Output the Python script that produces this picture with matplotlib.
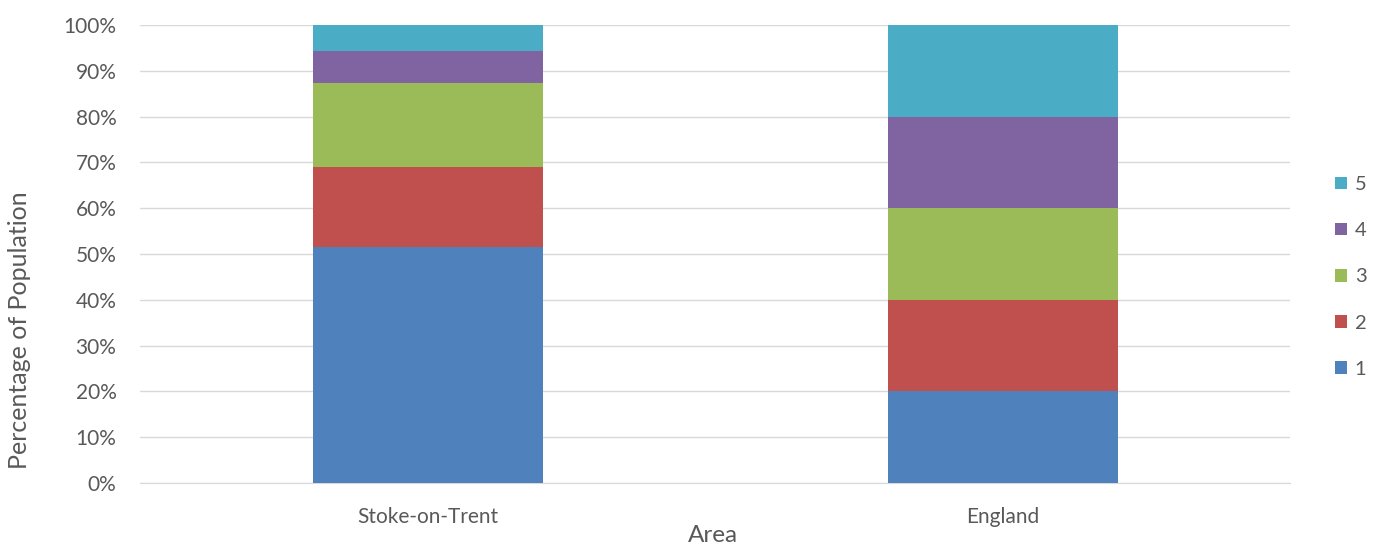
import matplotlib.pyplot as plt
import numpy as np
from matplotlib.ticker import PercentFormatter

areas = ["Stoke-on-Trent", "England"]
quintiles = ["1", "2", "3", "4", "5"]
# share of population in each quintile (%), per area
values = {
    "1": [51.5, 20.0],
    "2": [17.5, 20.0],
    "3": [18.3, 20.0],
    "4": [7.0, 20.0],
    "5": [5.7, 20.0],
}
colors = ["#4f81bd", "#c0504d", "#9bbb59", "#8064a2", "#4bacc6"]
text_color = "#595959"


def main() -> None:
    plt.rcParams["font.family"] = ["Lato", "DejaVu Sans"]
    fig = plt.figure(figsize=(13.81, 5.45), dpi=100)
    ax = fig.add_axes([140 / 1381, 1 - 483 / 545, 1150 / 1381, 458 / 545])

    x = np.arange(len(areas))
    bottom = np.zeros(len(areas))
    handles = []
    for q, c in zip(quintiles, colors):
        vals = np.array(values[q])
        h = ax.bar(x, vals, 0.4, bottom=bottom, color=c, label=q, zorder=3)
        handles.append(h)
        bottom += vals

    ax.set_xlim(-0.5, 1.5)
    ax.set_ylim(0, 100)
    ax.set_yticks(np.arange(0, 101, 10))
    ax.yaxis.set_major_formatter(PercentFormatter(decimals=0))
    ax.set_xticks(x)
    ax.set_xticklabels(areas)

    ax.grid(axis="y", color="#d9d9d9", linewidth=1, zorder=0)
    for s in ["top", "right", "left"]:
        ax.spines[s].set_visible(False)
    ax.spines["bottom"].set_color("#d9d9d9")
    ax.tick_params(length=0, colors=text_color, labelsize=15)
    ax.tick_params(axis="y", pad=17)
    ax.tick_params(axis="x", pad=17)

    # axis titles placed in figure coords to sit where the reference has them
    fig.text(20 / 1381, 1 - 330 / 545, "Percentage of Population", rotation=90,
             ha="center", va="center", fontsize=18, color=text_color)
    fig.text(713 / 1381, 1 - 535 / 545, "Area", ha="center", va="center",
             fontsize=17.5, color=text_color)

    ax.legend(handles[::-1], quintiles[::-1], loc="center left",
              bbox_to_anchor=(1.03, 0.45), frameon=False, fontsize=14.5,
              labelcolor=text_color, handlelength=0.6, handleheight=0.6,
              handletextpad=0.4, labelspacing=1.45, borderpad=0)

    fig.savefig("out.png", dpi=100)
    plt.close(fig)


if __name__ == "__main__":
    main()
